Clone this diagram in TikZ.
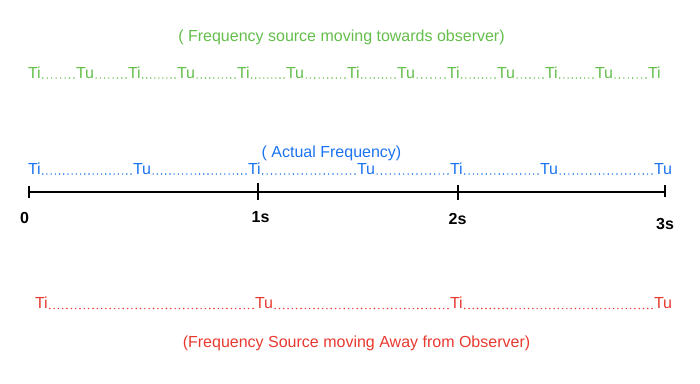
\documentclass[tikz,border=0pt]{standalone}
\usepackage{fontspec}
\setmainfont{Liberation Sans}
\usepackage{xcolor}
\usepackage{tikz}
\usetikzlibrary{calc, positioning, decorations.markings}

\definecolor{towardgreen}{RGB}{99,190,74}
\definecolor{actualblue}{RGB}{26,115,240}
\definecolor{awayred}{RGB}{232,57,47}

\tikzset{
    syl/.style={anchor=base west, inner sep=0pt, outer xsep=2pt, xshift=-2pt,
        font=\fontsize{16}{19}\selectfont},
    caption/.style={anchor=base, inner sep=0pt, font=\fontsize{16}{19}\selectfont},
    dotrow/.style={transform canvas={yshift=0.8pt}, decorate, decoration={markings,
        mark=between positions 0 and 1 step {\pgfdecoratedpathlength/max(1,round(\pgfdecoratedpathlength/4.3))-0.001pt}
        with {\fill (0,0) circle (0.8pt);}}},
    timeaxis/.style={line width=2pt, black},
    tickmark/.style={line width=1.8pt, black},
    timelabel/.style={inner sep=0pt, font=\fontsize{16}{18}\selectfont\bfseries}
}

\begin{document}
\begin{tikzpicture}[x=1pt, y=-1pt]

    \useasboundingbox (0,0) rectangle (700,383);

    % =================================================================
    % SOURCE MOVING TOWARDS OBSERVER (green)
    % =================================================================
    \begin{scope}[color=towardgreen]
        \node[caption] (gtitle) at (341.5,41.7) {( Frequency source moving towards observer)};

        \node[syl] (g1) at (28,78) {Ti};
        \node[syl] (g2) at (76,78) {Tu};
        \node[syl] (g3) at (128,78) {Ti};
        \node[syl] (g4) at (177,78) {Tu};
        \node[syl] (g5) at (237,78) {Ti};
        \node[syl] (g6) at (286,78) {Tu};
        \node[syl] (g7) at (347,78) {Ti};
        \node[syl] (g8) at (397,78) {Tu};
        \node[syl] (g9) at (447,78) {Ti};
        \node[syl] (g10) at (497,78) {Tu};
        \node[syl] (g11) at (545,78) {Ti};
        \node[syl] (g12) at (595,78) {Tu};
        \node[syl] (g13) at (648,78) {Ti};

        % Dots between the beats
        \path[dotrow] (g1.base east) -- (g2.base west);
        \path[dotrow] (g2.base east) -- (g3.base west);
        \path[dotrow] (g3.base east) -- (g4.base west);
        \path[dotrow] (g4.base east) -- (g5.base west);
        \path[dotrow] (g5.base east) -- (g6.base west);
        \path[dotrow] (g6.base east) -- (g7.base west);
        \path[dotrow] (g7.base east) -- (g8.base west);
        \path[dotrow] (g8.base east) -- (g9.base west);
        \path[dotrow] (g9.base east) -- (g10.base west);
        \path[dotrow] (g10.base east) -- (g11.base west);
        \path[dotrow] (g11.base east) -- (g12.base west);
        \path[dotrow] (g12.base east) -- (g13.base west);
    \end{scope}

    % =================================================================
    % ACTUAL FREQUENCY (blue)
    % =================================================================
    \begin{scope}[color=actualblue]
        \node[caption] (btitle) at (331.5,157) {( Actual Frequency)};

        \node[syl] (b1) at (28,174) {Ti};
        \node[syl] (b2) at (133,174) {Tu};
        \node[syl] (b3) at (248,174) {Ti};
        \node[syl] (b4) at (357,174) {Tu};
        \node[syl] (b5) at (450,174) {Ti};
        \node[syl] (b6) at (540,174) {Tu};
        \node[syl] (b7) at (654,174) {Tu};

        \path[dotrow] (b1.base east) -- (b2.base west);
        \path[dotrow] (b2.base east) -- (b3.base west);
        \path[dotrow] (b3.base east) -- (b4.base west);
        \path[dotrow] (b4.base east) -- (b5.base west);
        \path[dotrow] (b5.base east) -- (b6.base west);
        \path[dotrow] (b6.base east) -- (b7.base west);
    \end{scope}

    % =================================================================
    % TIME AXIS
    % =================================================================
    \coordinate (t0) at (29,192);
    \coordinate (t1) at (258,192);
    \coordinate (t2) at (458,192);
    \coordinate (t3) at (665,192);

    \draw[timeaxis] (t0) -- (t3);

    \draw[tickmark] ([yshift=6pt]t0) -- ([yshift=-6pt]t0);
    \draw[tickmark] ([yshift=9pt]t1) -- ([yshift=-8pt]t1);
    \draw[tickmark] ([yshift=7pt]t2) -- ([yshift=-8pt]t2);
    \draw[tickmark] ([yshift=7pt]t3) -- ([yshift=-5pt]t3);

    \node[timelabel] (l0) at (24.5,217.5) {0};
    \node[timelabel] (l1) at (260.5,217.5) {1s};
    \node[timelabel] (l2) at (457.5,218.5) {2s};
    \node[timelabel] (l3) at (665,223.5) {3s};

    % =================================================================
    % SOURCE MOVING AWAY FROM OBSERVER (red)
    % =================================================================
    \begin{scope}[color=awayred]
        \node[syl] (r1) at (35,308.5) {Ti};
        \node[syl] (r2) at (255,308.5) {Tu};
        \node[syl] (r3) at (450,308.5) {Ti};
        \node[syl] (r4) at (654,308.5) {Tu};

        \path[dotrow] (r1.base east) -- (r2.base west);
        \path[dotrow] (r2.base east) -- (r3.base west);
        \path[dotrow] (r3.base east) -- (r4.base west);

        \node[caption] (rtitle) at (356.5,347) {(Frequency Source moving Away from Observer)};
    \end{scope}

\end{tikzpicture}
\end{document}
